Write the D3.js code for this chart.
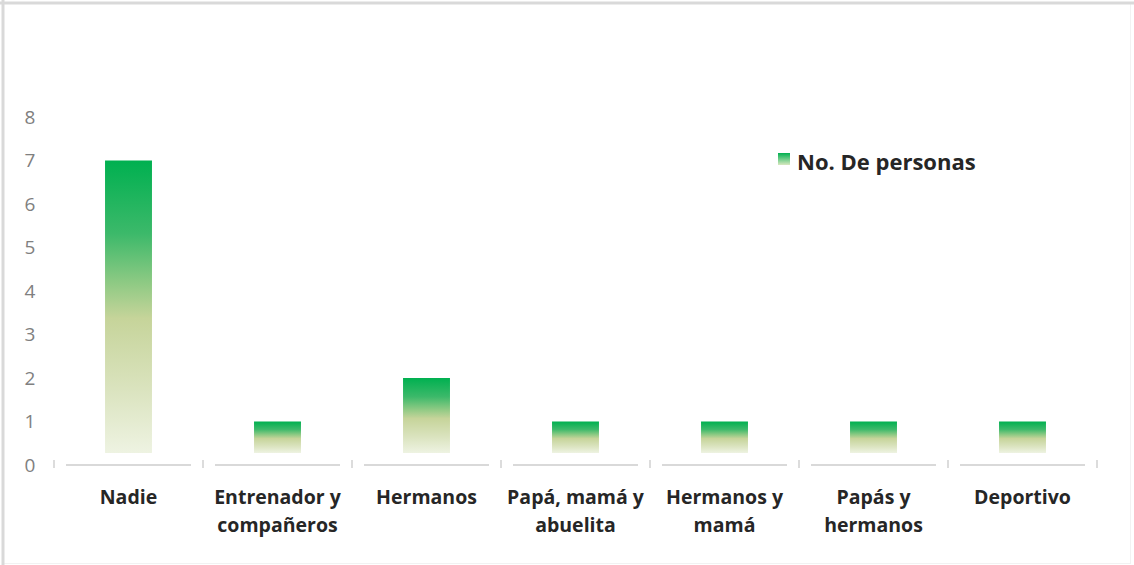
<!DOCTYPE html>
<html><head><meta charset="utf-8">
<script src="https://cdn.jsdelivr.net/npm/d3@7/dist/d3.min.js"></script>
<style>
html,body{margin:0;padding:0;background:#fff;}
svg{display:block;}
</style></head>
<body><svg id="c" width="1134" height="565"></svg>
<script>
const categories = [["Nadie"],["Entrenador y","compañeros"],["Hermanos"],["Papá, mamá y","abuelita"],["Hermanos y","mamá"],["Papás y","hermanos"],["Deportivo"]];
const values = [7,1,2,1,1,1,1];
const yTicks = [0,1,2,3,4,5,6,7,8];
const seriesName = "No. De personas";

const svg = d3.select("#c");
const W = 1134, H = 565;
const FONT = "'Open Sans', sans-serif";
// border
svg.append("rect").attr("x",2.5).attr("y",2.5).attr("width",W-6).attr("height",H-4)
  .attr("fill","#fff").attr("stroke","#f2f2f2").attr("stroke-width",1);
svg.append("line").attr("x1",0).attr("x2",W).attr("y1",3).attr("y2",3).attr("stroke","#d9d9d9").attr("stroke-width",3);
svg.append("line").attr("x1",3).attr("x2",3).attr("y1",0).attr("y2",H).attr("stroke","#d9d9d9").attr("stroke-width",3);

const x = d3.scaleBand().domain(d3.range(categories.length)).range([54,1097]).paddingInner(0.685).paddingOuter(0.3425);
const xOuter = d3.scaleBand().domain(d3.range(categories.length)).range([54,1097]);
const y = d3.scaleLinear().domain([0,8]).range([465,117]);

const defs = svg.append("defs");
const g = defs.append("linearGradient").attr("id","grad").attr("x1",0).attr("y1",0).attr("x2",0).attr("y2",1);
[[0,"#00b050"],[0.25,"#3cb96a"],[0.42,"#8fca84"],[0.54,"#c6d49a"],[0.78,"#dae3be"],[1,"#eef3e2"]].forEach(s=>
  g.append("stop").attr("offset",s[0]).attr("stop-color",s[1]));
const lg = defs.append("linearGradient").attr("id","lgrad").attr("x1",0).attr("y1",0).attr("x2",0).attr("y2",1);
[[0,"#00b050"],[1,"#d9e8c0"]].forEach(s=>lg.append("stop").attr("offset",s[0]).attr("stop-color",s[1]));

// y labels
svg.append("g").selectAll("text").data(yTicks).join("text")
  .attr("x",30).attr("y",d=>y(d)).attr("dy","0.35em").attr("text-anchor","middle")
  .attr("font-family",FONT).attr("font-size",19).attr("fill","#808080")
  .text(d=>d);

// baseline segments and ticks
const axisG = svg.append("g");
axisG.selectAll("line.seg").data(d3.range(categories.length)).join("line")
  .attr("x1",d=>xOuter(d)+12).attr("x2",d=>xOuter(d)+xOuter.bandwidth()-12)
  .attr("y1",y(0)).attr("y2",y(0)).attr("stroke","#d9d9d9").attr("stroke-width",2);
axisG.selectAll("line.tk").data(d3.range(categories.length+1)).join("line")
  .attr("x1",d=>54+d*xOuter.step()).attr("x2",d=>54+d*xOuter.step())
  .attr("y1",y(0)-5).attr("y2",y(0)+3).attr("stroke","#d0d0d0").attr("stroke-width",1.5);

// bars
svg.append("g").selectAll("rect").data(values).join("rect")
  .attr("x",(d,i)=>x(i)).attr("width",x.bandwidth())
  .attr("y",d=>y(d)).attr("height",d=>y(0)-y(d)-12)
  .attr("fill","url(#grad)");

// category labels
const lab = svg.append("g").selectAll("text").data(categories).join("text")
  .attr("x",(d,i)=>x(i)+x.bandwidth()/2).attr("y",504).attr("text-anchor","middle")
  .attr("font-family",FONT).attr("font-weight","bold").attr("font-size",19.5).attr("fill","#262626");
lab.each(function(d){
  const t = d3.select(this);
  d.forEach((line,k)=>t.append("tspan").attr("x",t.attr("x")).attr("dy",k===0?0:28).text(line));
});

// legend
svg.append("rect").attr("x",778).attr("y",153).attr("width",12).attr("height",12).attr("fill","url(#lgrad)");
svg.append("text").attr("x",797).attr("y",170).attr("font-family",FONT)
  .attr("font-weight","bold").attr("font-size",22).attr("fill","#262626").text(seriesName);
</script></body></html>
